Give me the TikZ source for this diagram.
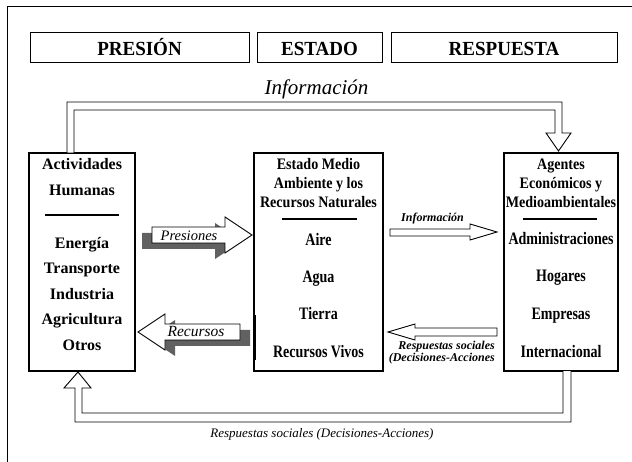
\documentclass[tikz,border=0pt]{standalone}
\usepackage{fontspec}
\setmainfont{Liberation Serif}
\newfontfamily\condA[FakeStretch=0.88]{Liberation Serif}
\newfontfamily\condB[FakeStretch=0.80]{Liberation Serif}
\newfontfamily\condH[FakeStretch=0.95]{Liberation Serif}
\begin{document}
\begin{tikzpicture}[x=1pt,y=-1pt,
  frameline/.style={draw=black,line width=1pt},
  hbox/.style={draw=black,line width=1pt,inner sep=0pt},
  mbox/.style={draw=black,line width=1.1pt,inner sep=0pt,minimum height=218pt},
  hdr/.style={font=\condH\fontsize{20}{22}\selectfont\bfseries,anchor=base,inner sep=0pt},
  lt/.style={font=\fontsize{16}{18}\selectfont\bfseries,anchor=base,inner sep=0pt},
  ht/.style={font=\condA\fontsize{16}{18}\selectfont\bfseries,anchor=base,inner sep=0pt},
  it/.style={font=\condB\fontsize{17.5}{19}\selectfont\bfseries,anchor=base,inner sep=0pt},
  rulel/.style={line width=1.6pt},
  blk/.style={draw=black,line width=0.9pt,fill=white,line join=miter},
  shad/.style={fill=black!62,draw=none},
  lab/.style={font=\fontsize{12}{13}\selectfont\bfseries\itshape,anchor=base,inner sep=0pt},
]
\useasboundingbox (0,0) rectangle (632,462);
\fill[white] (0,0) rectangle (632,462);
\draw[frameline] (7,462) -- (7,7) -- (632,7);

% header boxes
\node[hbox,minimum width=219pt,minimum height=30pt] (pres) at (139.5,48) {};
\node[hbox,minimum width=125pt,minimum height=30pt] (est) at (319.5,48) {};
\node[hbox,minimum width=226pt,minimum height=30pt] (resp) at (504,48) {};
\node[hdr] (presT) at (139.5,56) {PRESIÓN};
\node[hdr] (estT) at (319.5,56) {ESTADO};
\node[hdr] (respT) at (504,56) {RESPUESTA};

% top label
\node[font=\fontsize{21}{23}\selectfont\itshape,anchor=base,inner sep=0pt] (infoTop) at (316.5,95) {Información};

% main boxes
\node[mbox,minimum width=106pt] (act) at (82,262) {};
\node[mbox,minimum width=129pt] (mid) at (318.5,262) {};
\node[mbox,minimum width=114pt] (age) at (561,262) {};

% left box text
\node[lt] (a1) at (82,170) {Actividades};
\node[lt] (a2) at (82,195.5) {Humanas};
\draw[rulel] (45,215) -- (119,215);
\node[lt] (a3) at (82,248.5) {Energía};
\node[lt] (a4) at (82,274) {Transporte};
\node[lt] (a5) at (82,299.5) {Industria};
\node[lt] (a6) at (82,325) {Agricultura};
\node[lt] (a7) at (82,350.5) {Otros};

% middle box text
\node[ht] (m1) at (318.5,170) {Estado Medio};
\node[ht] (m2) at (318.5,189) {Ambiente y los};
\node[ht] (m3) at (318.5,208) {Recursos Naturales};
\draw[rulel] (282,219) -- (357,219);
\node[it] (m4) at (318.5,246) {Aire};
\node[it] (m5) at (318.5,283) {Agua};
\node[it] (m6) at (318.5,320) {Tierra};
\node[it] (m7) at (318.5,357) {Recursos Vivos};
\draw[line width=2.4pt] (254.5,315) -- (254.5,360);

% right box text
\node[ht] (r1) at (561,170) {Agentes};
\node[ht] (r2) at (561,189) {Económicos y};
\node[ht] (r3) at (561,208) {Medioambientales};
\draw[rulel] (523,219) -- (597,219);
\node[it] (r4) at (561,245) {Administraciones};
\node[it] (r5) at (561,282) {Hogares};
\node[it] (r6) at (561,320) {Empresas};
\node[it] (r7) at (561,357) {Internacional};

% Presiones arrow with shadow
\begin{scope}[shift={(-10,6)}]
\fill[shad] (152,227) -- (225,227) -- (225,217) -- (252,235) -- (225,253) -- (225,243) -- (152,243) -- cycle;
\end{scope}
\draw[blk] (152,227) -- (225,227) -- (225,217) -- (252,235) -- (225,253) -- (225,243) -- (152,243) -- cycle;
\node[font=\fontsize{14.5}{16}\selectfont\itshape,anchor=base,inner sep=0pt] (presL) at (189,240.5) {Presiones};

% Recursos arrow with shadow
\begin{scope}[shift={(10,6)}]
\fill[shad] (240,324) -- (165,324) -- (165,314) -- (138,332) -- (165,350) -- (165,340) -- (240,340) -- cycle;
\end{scope}
\draw[blk] (240,324) -- (165,324) -- (165,314) -- (138,332) -- (165,350) -- (165,340) -- (240,340) -- cycle;
\node[font=\fontsize{15.5}{17}\selectfont\itshape,anchor=base,inner sep=0pt] (recL) at (196,337) {Recursos};

% Informacion middle arrow
\draw[blk] (390,229) -- (470,229) -- (470,224) -- (497,232) -- (470,240) -- (470,236) -- (390,236) -- cycle;
\node[lab] (infoMid) at (432.5,222) {Información};

% Respuestas sociales middle arrow
\draw[blk] (497,328) -- (415,328) -- (415,324) -- (388,332) -- (415,340) -- (415,336) -- (497,336) -- cycle;
\node[lab,anchor=base east] (respL1) at (495,349.5) {Respuestas sociales};
\node[lab,anchor=base east] (respL2) at (495,361) {(Decisiones-Acciones};

% top information loop arrow
\draw[blk] (67,153) -- (67,102) -- (562,102) -- (562,133) -- (571,133) -- (558.5,151) -- (546,133) -- (555,133) -- (555,110) -- (74,110) -- (74,153) -- cycle;

% bottom responses loop arrow
\draw[blk] (563,371) -- (563,413) -- (82,413) -- (82,388) -- (91,388) -- (78,372) -- (64,388) -- (75,388) -- (75,422) -- (571,422) -- (571,371);
\node[font=\fontsize{13}{14}\selectfont\itshape,anchor=base,inner sep=0pt] (respBot) at (322,437) {Respuestas sociales (Decisiones-Acciones)};
\end{tikzpicture}
\end{document}
